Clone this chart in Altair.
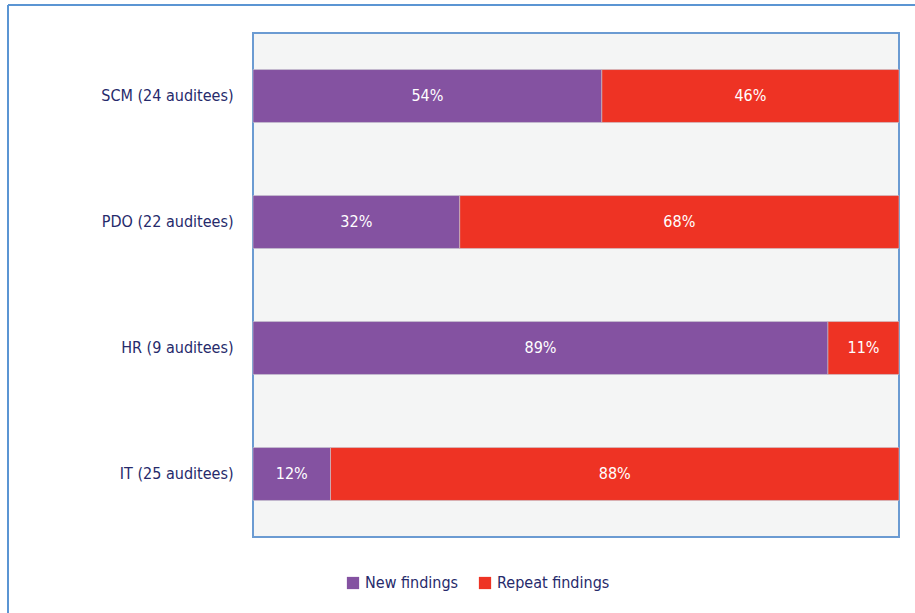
import altair as alt
import pandas as pd

categories = ["SCM (24 auditees)", "PDO (22 auditees)", "HR (9 auditees)", "IT (25 auditees)"]
new_findings = [54, 32, 89, 12]
repeat_findings = [46, 68, 11, 88]
series = ["New findings", "Repeat findings"]
colors = ["#8452a1", "#ee3324"]

rows = []
for c, n, r in zip(categories, new_findings, repeat_findings):
    rows.append({"cat": c, "series": series[0], "val": n, "start": 0, "end": n})
    rows.append({"cat": c, "series": series[1], "val": r, "start": n, "end": n + r})
df = pd.DataFrame(rows)
df["label"] = df["val"].astype(str) + "%"
df["mid"] = (df["start"] + df["end"]) / 2

FONT = "DejaVu Sans Condensed"

y = alt.Y("cat:N", sort=categories, title=None,
          scale=alt.Scale(paddingInner=0.58, paddingOuter=0.29),
          axis=alt.Axis(ticks=False, domain=False, labelPadding=20, labelFontSize=16,
                        labelColor="#262a6b", labelFont=FONT, labelFontWeight=500))

bars = alt.Chart(df).mark_bar(stroke="#c8c8d0", strokeWidth=0.6).encode(
    x=alt.X("start:Q", scale=alt.Scale(domain=[0, 100], nice=False), axis=None),
    x2="end:Q",
    y=y,
    color=alt.Color("series:N", scale=alt.Scale(domain=series, range=colors),
                    legend=alt.Legend(title=None, orient="none", legendX=92, legendY=542,
                                      direction="horizontal", symbolType="square",
                                      symbolSize=150, symbolStrokeWidth=0,
                                      labelFontSize=16, labelColor="#262a6b",
                                      labelFont=FONT, labelFontWeight=500,
                                      columnPadding=18, labelOffset=4)),
)

texts = alt.Chart(df).mark_text(color="white", fontSize=16, font=FONT, fontWeight=500).encode(
    x=alt.X("mid:Q"),
    y=alt.Y("cat:N", sort=categories),
    text="label:N",
)

frame_left = alt.Chart(df).mark_rule(color="#5b95d3", strokeWidth=2).encode(
    x=alt.value(-245), y=alt.value(-28), y2=alt.value(600))
frame_top = alt.Chart(df).mark_rule(color="#5b95d3", strokeWidth=2).encode(
    x=alt.value(-245), x2=alt.value(700), y=alt.value(-28))

chart = alt.layer(frame_left, frame_top, bars, texts).properties(
    width=646, height=504,
    autosize=alt.AutoSizeParams(type="none"),
    padding={"left": 253, "top": 33, "right": 16, "bottom": 76},
    background="white",
).configure_view(
    fill="#f4f5f5", stroke="#6b9bd2", strokeWidth=2
)

chart.save("out.html", embed_options={"renderer": "svg", "actions": False})
